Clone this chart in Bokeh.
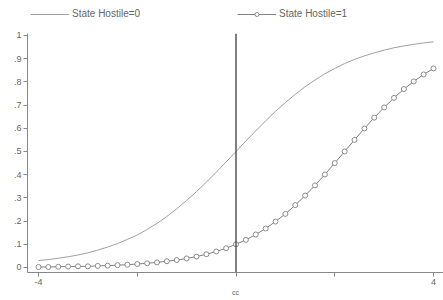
from bokeh.plotting import figure
from bokeh.layouts import column
from bokeh.models import Range1d, FixedTicker, Span, Legend, LegendItem
from bokeh.embed import file_html
from bokeh.resources import INLINE

# x grid of the predicted-probability curves
cc = [-4.0, -3.8, -3.6, -3.4, -3.2, -3.0, -2.8, -2.6, -2.4, -2.2, -2.0,
      -1.8, -1.6, -1.4, -1.2, -1.0, -0.8, -0.6, -0.4, -0.2, 0.0,
      0.2, 0.4, 0.6, 0.8, 1.0, 1.2, 1.4, 1.6, 1.8, 2.0,
      2.2, 2.4, 2.6, 2.8, 3.0, 3.2, 3.4, 3.6, 3.8, 4.0]

# State Hostile=0
hostile0 = [0.030, 0.034, 0.040, 0.046, 0.054, 0.063, 0.075, 0.088, 0.103, 0.121, 0.140,
            0.164, 0.190, 0.220, 0.253, 0.289, 0.327, 0.368, 0.411, 0.455, 0.500,
            0.545, 0.589, 0.632, 0.673, 0.711, 0.746, 0.779, 0.808, 0.835, 0.858,
            0.879, 0.897, 0.912, 0.925, 0.937, 0.947, 0.955, 0.962, 0.968, 0.973]

# State Hostile=1
hostile1 = [0.002, 0.002, 0.003, 0.004, 0.005, 0.005, 0.007, 0.008, 0.010, 0.012, 0.015,
            0.018, 0.022, 0.027, 0.032, 0.039, 0.047, 0.057, 0.069, 0.083, 0.100,
            0.119, 0.142, 0.168, 0.198, 0.231, 0.269, 0.310, 0.354, 0.401, 0.450,
            0.500, 0.550, 0.599, 0.646, 0.690, 0.731, 0.769, 0.802, 0.832, 0.858]

series_labels = ["State Hostile=0", "State Hostile=1"]

y_ticks = [0, 0.1, 0.2, 0.3, 0.4, 0.5, 0.6, 0.7, 0.8, 0.9, 1.0]
y_labels = ["0", ".1", ".2", ".3", ".4", ".5", ".6", ".7", ".8", ".9", "1"]
x_ticks = [-4, -2, 0, 2, 4]
x_labels = ["-4", "", "", "", "4"]

FONT = "Liberation Sans"
TXT = "#666666"
C0 = "#a0a0a0"
C1 = "#808080"

TOP_H = 25

# ---- legend strip (its own ranges hide the proxy glyphs; only the legend shows) ----
lg = figure(width=443, height=TOP_H, output_backend="svg", toolbar_location=None,
            x_range=Range1d(10, 11), y_range=Range1d(10, 11),
            x_axis_type=None, y_axis_type=None,
            min_border_left=0, min_border_right=0, min_border_top=0, min_border_bottom=0)
lg.outline_line_color = None
lg.xgrid.visible = False
lg.ygrid.visible = False
d0 = lg.line(cc[:2], hostile0[:2], line_color=C0, line_width=1.0)
d1 = lg.line(cc[:2], hostile1[:2], line_color=C1, line_width=1.0)
d1s = lg.scatter(cc[:2], hostile1[:2], size=5, marker="circle", fill_color="white",
                 line_color=C1, line_width=0.9)

def add_legend(item, x):
    leg = Legend(items=[item], location=(x, 6), orientation="horizontal",
                 padding=0, margin=0, spacing=0, glyph_width=39, glyph_height=10,
                 label_standoff=3, label_text_font=FONT, label_text_font_size="10px",
                 label_text_color=TXT, border_line_color=None, background_fill_alpha=0)
    lg.add_layout(leg, "center")

# column() aligns the strip's frame with the main frame (left edge at 27px)
add_legend(LegendItem(label=series_labels[0], renderers=[d0]), 3)
add_legend(LegendItem(label=series_labels[1], renderers=[d1, d1s]), 210)

# ---- main plot ----------------------------------------------------------
p = figure(width=443, height=300 - TOP_H, output_backend="svg", toolbar_location=None,
           x_range=Range1d(-4.223, 4.2025), y_range=Range1d(-0.0216, 1.0086),
           min_border_left=27, min_border_right=0, min_border_top=33 - TOP_H,
           min_border_bottom=28)
p.outline_line_color = None
p.xgrid.visible = False
p.ygrid.visible = False

p.line(cc, hostile0, line_color=C0, line_width=1.0)
p.line(cc, hostile1, line_color=C1, line_width=1.0)
p.scatter(cc, hostile1, size=5, marker="circle", fill_color="white",
          line_color=C1, line_width=0.9)

p.add_layout(Span(location=0, dimension="height", line_color="#555555", line_width=1.5))

for ax in (p.xaxis[0], p.yaxis[0]):
    ax.axis_line_color = "#888888"
    ax.major_tick_line_color = "#888888"
    ax.minor_tick_line_color = None
    ax.major_tick_in = 0
    ax.major_tick_out = 4
    ax.major_label_text_font = FONT
    ax.major_label_text_font_size = "9px"
    ax.major_label_text_color = TXT
    ax.major_label_standoff = 2

p.yaxis.ticker = FixedTicker(ticks=y_ticks)
p.yaxis.major_label_overrides = dict(zip(y_ticks, y_labels))
p.xaxis.ticker = FixedTicker(ticks=x_ticks)
p.xaxis.major_label_overrides = dict(zip(x_ticks, x_labels))
p.xaxis.axis_label = "cc"
p.xaxis.axis_label_text_font = FONT
p.xaxis.axis_label_text_font_size = "7px"
p.xaxis.axis_label_text_font_style = "normal"
p.xaxis.axis_label_text_color = TXT
p.xaxis.axis_label_standoff = 1

layout = column(lg, p, spacing=0)
open("out.html", "w").write(file_html(layout, INLINE))
